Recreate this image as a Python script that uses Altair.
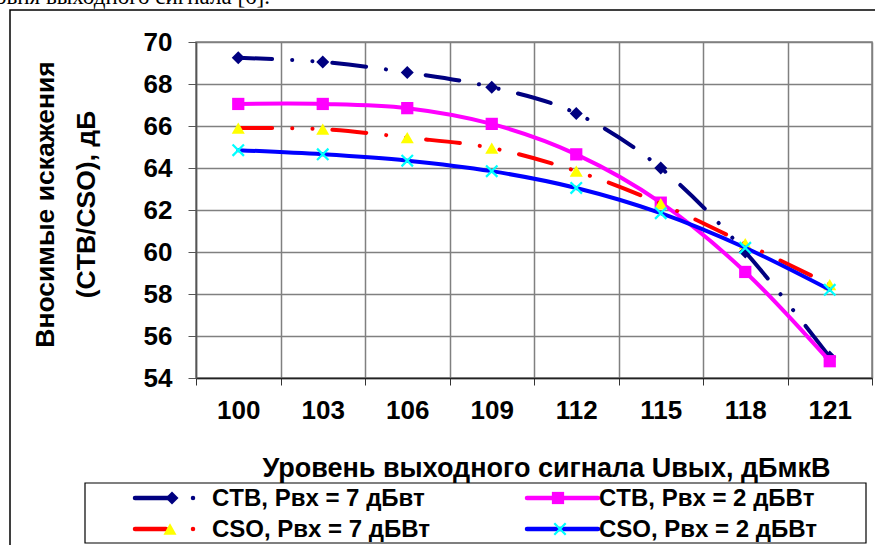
import altair as alt
import pandas as pd

# ---------------- data ----------------
x_levels = [100, 103, 106, 109, 112, 115, 118, 121]
ctb_p7 = [69.25, 69.05, 68.55, 67.85, 66.6, 64.0, 60.0, 55.0]
ctb_p2 = [67.05, 67.05, 66.85, 66.1, 64.65, 62.35, 59.05, 54.8]
cso_p7 = [65.9, 65.85, 65.45, 64.95, 63.85, 62.3, 60.4, 58.45]
cso_p2 = [64.85, 64.65, 64.35, 63.85, 63.05, 61.85, 60.2, 58.2]
series_names = ["CTB, Pвх = 7 дБвт", "CTB, Pвх = 2 дБВт",
                "CSO, Pвх = 7 дБВт", "CSO, Pвх = 2 дБВт"]
y_ticks = [54, 56, 58, 60, 62, 64, 66, 68, 70]
x_title = "Уровень выходного сигнала Uвых, дБмкВ"
y_title = ["Вносимые искажения", "(CTB/CSO), дБ"]
caption_fragment = "уровня выходного сигнала [6]."

# ---------------- layout / style ----------------
FONT = "Liberation Sans"
W, H = 676, 336
PAD = {"left": 196, "top": 42, "right": 3, "bottom": 167}

half = (x_levels[1] - x_levels[0]) / 2
step = 2 * half
bounds = [x_levels[0] - half + i * step for i in range(len(x_levels) + 1)]
is_bound = f"abs((datum.value - ({bounds[0]})) % {step}) < 0.01"

x_enc = alt.X(
    "x:Q",
    scale=alt.Scale(domain=[bounds[0], bounds[-1]], nice=False, zero=False),
    axis=alt.Axis(
        values=bounds + x_levels,
        grid=True, gridColor="#808080", gridWidth=1.5,
        gridOpacity={"condition": {"test": is_bound, "value": 1}, "value": 0},
        ticks=True, tickSize=7, tickColor="#333", tickWidth=1,
        tickOpacity={"condition": {"test": is_bound, "value": 1}, "value": 0},
        domainColor="#222", domainWidth=1.5,
        labelExpr=f"{is_bound} ? '' : format(datum.value, 'd')",
        labelFont=FONT, labelFontSize=26, labelFontWeight="bold", labelColor="black",
        labelBaseline="middle", labelPadding=25, labelOverlap=False, labelFlush=False,
        title=x_title, titleFont=FONT, titleFontSize=27, titleFontWeight="bold",
        titleColor="black", titleX=350, titleY=90, titleBaseline="middle",
        titleAlign="center", titleAnchor="middle",
    ),
)
y_enc = alt.Y(
    "value:Q",
    scale=alt.Scale(domain=[y_ticks[0], y_ticks[-1]], nice=False, zero=False),
    axis=alt.Axis(
        values=y_ticks, format="d",
        grid=True, gridColor="#808080", gridWidth=1.5,
        tickSize=8, tickColor="#555", tickWidth=1,
        domainColor="#555", domainWidth=1.5,
        labelFont=FONT, labelFontSize=26, labelFontWeight="bold", labelColor="black",
        labelPadding=16,
        title=y_title, titleFont=FONT, titleFontSize=26.5, titleFontWeight="bold",
        titleColor="black", titleLineHeight=41, titleAngle=270,
        titleX=-151, titleY=162, titleBaseline="middle", titleAlign="center",
    ),
)

DASH_DOT_DOT = [34, 20, 0.1, 20, 0.1, 20]
series = [
    dict(vals=ctb_p7, color="#000080", dash=DASH_DOT_DOT, shape="diamond",
         mfill="#000080", mstroke=None, msize=170),
    dict(vals=ctb_p2, color="#FF00FF", dash=None, shape="square",
         mfill="#FF00FF", mstroke=None, msize=150),
    dict(vals=cso_p7, color="#FF0000", dash=DASH_DOT_DOT, shape="triangle-up",
         mfill="#FFFF00", mstroke=None, msize=170),
    dict(vals=cso_p2, color="#0000FF", dash=None, shape="M-1,-1L1,1M1,-1L-1,1",
         mfill=None, mstroke="#00FFFF", msize=130),
]

one = pd.DataFrame({"k": [0]})
layers = []

# outer document frame
layers.append(
    alt.Chart(one).mark_rect(fillOpacity=0, stroke="black", strokeWidth=1.5).encode(
        x=alt.value(10 - PAD["left"]), y=alt.value(10 - PAD["top"]),
        x2=alt.value(W + 40), y2=alt.value(H + 250))
)
# cut document text at the top
layers.append(
    alt.Chart(pd.DataFrame({"t": [caption_fragment]})).mark_text(
        font="Liberation Serif", fontSize=23, align="right",
        baseline="alphabetic", color="black").encode(
        x=alt.value(270 - PAD["left"]), y=alt.value(4 - PAD["top"]), text="t:N")
)


def mark_kwargs(s):
    if s["mfill"] is not None:
        return dict(shape=s["shape"], filled=True, fill=s["mfill"], size=s["msize"],
                    opacity=1, strokeWidth=0)
    return dict(shape=s["shape"], filled=False, stroke=s["mstroke"], size=s["msize"],
                strokeWidth=2.2, opacity=1)


for s in series:
    df = pd.DataFrame({"x": x_levels, "value": s["vals"]})
    lk = dict(color=s["color"], strokeWidth=4, interpolate="cardinal", strokeCap="round")
    if s["dash"]:
        lk["strokeDash"] = s["dash"]
    layers.append(alt.Chart(df).mark_line(**lk).encode(x=x_enc, y=y_enc))
    layers.append(alt.Chart(df).mark_point(**mark_kwargs(s)).encode(x=x_enc, y=y_enc))

# ---------------- legend (manual, Excel style) ----------------
layers.append(
    alt.Chart(one).mark_rect(fillOpacity=0, stroke="black", strokeWidth=1.2).encode(
        x=alt.value(85 - PAD["left"]), y=alt.value(483 - PAD["top"]),
        x2=alt.value(866 - PAD["left"]), y2=alt.value(543 - PAD["top"]))
)
rows_y = [498, 529]
legend_pos = [  # (line x0, line x1, marker x, dot x or None, text x, row)
    (135, 168, 172, 193, 212, 0),
    (527, 598, 558, None, 599, 0),
    (135, 166, 170, 193, 212, 1),
    (527, 598, 560, None, 599, 1),
]
for s, name, (x0, x1, mx, dx, tx, r) in zip(series, series_names, legend_pos):
    yy = rows_y[r] - PAD["top"]
    layers.append(alt.Chart(one).mark_rule(color=s["color"], strokeWidth=4.5,
                                           strokeCap="round").encode(
        x=alt.value(x0 - PAD["left"]), x2=alt.value(x1 - PAD["left"]), y=alt.value(yy)))
    layers.append(alt.Chart(one).mark_point(**mark_kwargs(s)).encode(
        x=alt.value(mx - PAD["left"]), y=alt.value(yy)))
    if dx is not None:
        layers.append(alt.Chart(one).mark_point(shape="circle", filled=True,
                                                fill=s["color"], size=20, opacity=1,
                                                strokeWidth=0).encode(
            x=alt.value(dx - PAD["left"]), y=alt.value(yy)))
    layers.append(alt.Chart(pd.DataFrame({"t": [name]})).mark_text(
        font=FONT, fontSize=24, fontWeight="bold", align="left", baseline="middle",
        color="black").encode(
        x=alt.value(tx - PAD["left"]), y=alt.value(yy + 1), text="t:N"))

chart = alt.layer(*layers).properties(
    width=W, height=H, padding=PAD,
    autosize=alt.AutoSizeParams(type="none"),
    background="white",
).configure_view(stroke="#808080", strokeWidth=1.5)

chart.save("out.html", embed_options={"renderer": "svg", "actions": False})
